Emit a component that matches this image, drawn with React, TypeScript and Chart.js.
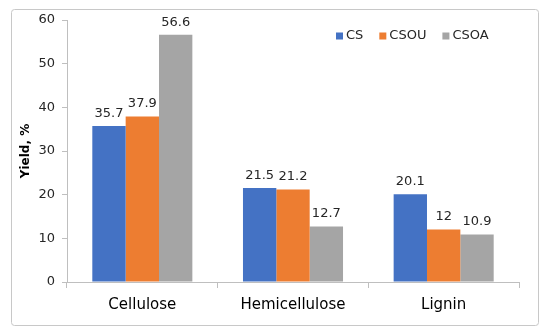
import React, { useEffect, useRef } from "react";
import { Chart, registerables } from "chart.js";

Chart.register(...registerables);

const categories = ["Cellulose", "Hemicellulose", "Lignin"];
const seriesNames = ["CS", "CSOU", "CSOA"];
const csValues = [35.7, 21.5, 20.1];
const csouValues = [37.9, 21.2, 12];
const csoaValues = [56.6, 12.7, 10.9];
const seriesColors = ["#4472C4", "#ED7D31", "#A5A5A5"];
const yTicks = [0, 10, 20, 30, 40, 50, 60];

const FONT = "'DejaVu Sans', Verdana, sans-serif";

const decorPlugin = {
  id: "decor",
  beforeDraw(chart: any) {
    const ctx = chart.ctx;
    ctx.save();
    ctx.fillStyle = "#ffffff";
    ctx.fillRect(0, 0, chart.width, chart.height);
    ctx.strokeStyle = "#c8c8c8";
    ctx.lineWidth = 1;
    const x = 11.5, y = 9.5, w = 527, h = 316, r = 3;
    ctx.beginPath();
    ctx.moveTo(x + r, y);
    ctx.lineTo(x + w - r, y);
    ctx.arcTo(x + w, y, x + w, y + r, r);
    ctx.lineTo(x + w, y + h - r);
    ctx.arcTo(x + w, y + h, x + w - r, y + h, r);
    ctx.lineTo(x + r, y + h);
    ctx.arcTo(x, y + h, x, y + h - r, r);
    ctx.lineTo(x, y + r);
    ctx.arcTo(x, y, x + r, y, r);
    ctx.closePath();
    ctx.stroke();
    ctx.restore();
  },
  afterDatasetsDraw(chart: any) {
    const ctx = chart.ctx;
    ctx.save();
    ctx.font = `13px ${FONT}`;
    ctx.fillStyle = "#262626";
    ctx.textAlign = "center";
    ctx.textBaseline = "bottom";
    chart.data.datasets.forEach((ds: any, i: number) => {
      const meta = chart.getDatasetMeta(i);
      meta.data.forEach((bar: any, j: number) => {
        ctx.fillText(String(ds.data[j]), bar.x, bar.y - 6);
      });
    });
    // legend
    let lx = 336;
    const ly = 36;
    ctx.textAlign = "left";
    ctx.textBaseline = "middle";
    chart.data.datasets.forEach((ds: any) => {
      ctx.fillStyle = ds.backgroundColor;
      ctx.fillRect(lx, ly - 3.5, 7, 7);
      ctx.fillStyle = "#262626";
      ctx.fillText(ds.label, lx + 10, ly);
      lx += 10 + ctx.measureText(ds.label).width + 16;
    });
    ctx.restore();
  },
};

export default function App() {
  const ref = useRef<HTMLCanvasElement>(null);
  useEffect(() => {
    document.body.style.margin = "0";
    const chart = new Chart(ref.current!, {
      type: "bar",
      data: {
        labels: categories,
        datasets: [csValues, csouValues, csoaValues].map((d, i) => ({
          label: seriesNames[i],
          data: d,
          backgroundColor: seriesColors[i],
          categoryPercentage: 0.664,
          barPercentage: 1,
        })),
      },
      options: {
        responsive: false,
        animation: false,
        layout: { padding: { left: 0, top: 20, right: 31, bottom: 0 } },
        plugins: { legend: { display: false }, tooltip: { enabled: false } },
        scales: {
          x: {
            grid: {
              offset: true,
              drawOnChartArea: false,
              drawTicks: true,
              tickLength: 6,
              color: "#bfbfbf",
            },
            border: { color: "#bfbfbf" },
            ticks: {
              font: { family: FONT, size: 15 },
              color: "#000000",
              padding: 8,
            },
            afterFit: (s: any) => {
              s.height = 52;
            },
          },
          y: {
            min: 0,
            max: 60,
            afterBuildTicks: (s: any) => {
              s.ticks = yTicks.map((v) => ({ value: v }));
            },
            grid: {
              drawOnChartArea: false,
              drawTicks: true,
              tickLength: 5,
              color: "#bfbfbf",
            },
            border: { color: "#bfbfbf" },
            ticks: {
              font: { family: FONT, size: 13 },
              color: "#262626",
              padding: 7,
            },
            title: {
              display: true,
              text: "Yield, %",
              font: { family: FONT, size: 12, weight: "bold" },
              color: "#000000",
              padding: { top: 19, bottom: 0 },
            },
            afterFit: (s: any) => {
              s.width = 67;
            },
          },
        },
      },
      plugins: [decorPlugin],
    });
    return () => chart.destroy();
  }, []);
  return <canvas ref={ref} width={550} height={334} style={{ display: "block" }} />;
}
